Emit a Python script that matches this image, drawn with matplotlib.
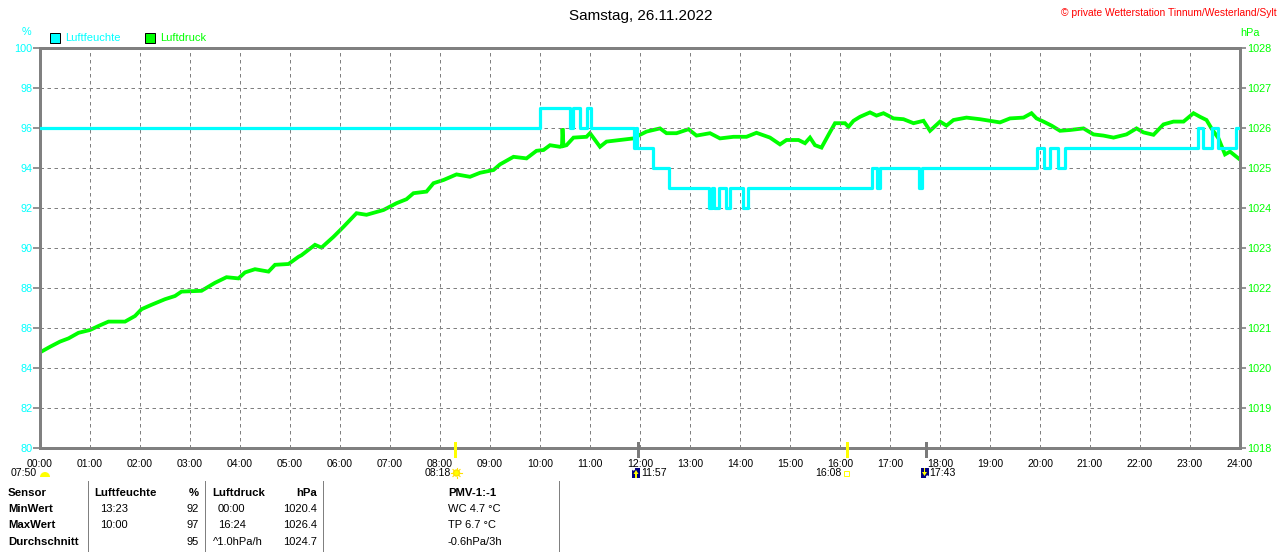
import matplotlib
matplotlib.use("Agg")
import matplotlib.pyplot as plt
from matplotlib.patches import Rectangle, Circle, Wedge, Polygon
import numpy as np

plt.rcParams['font.family'] = ['Liberation Sans', 'DejaVu Sans']
plt.rcParams['lines.scale_dashes'] = False

# ---------------- data ----------------
title = "Samstag, 26.11.2022"
copyright_txt = "\u00a9 private Wetterstation Tinnum/Westerland/Sylt"
series_names = ["Luftfeuchte", "Luftdruck"]

hum_times = [0, 10.0, 10.6, 10.65, 10.8, 10.93, 11.01, 11.88, 11.91, 11.93, 11.96,
             12.25, 12.57, 13.37, 13.43, 13.47, 13.57, 13.71, 13.8, 14.05, 14.15,
             16.63, 16.73, 16.79, 17.57, 17.65, 19.93, 20.07, 20.19, 20.35, 20.5,
             23.15, 23.25, 23.43, 23.55, 23.92, 24.0]
hum_vals = [96, 97, 96, 97, 96, 97, 96, 95, 96, 95, 95,
            94, 93, 92, 93, 92, 93, 92, 93, 92, 93,
            94, 93, 94, 93, 94, 95, 94, 95, 94, 95,
            96, 95, 96, 95, 96, 96]

press_times = [0.0, 0.2, 0.4, 0.57, 0.77, 1.0, 1.17, 1.37, 1.7, 1.9, 2.03, 2.23, 2.5,
               2.7, 2.83, 3.23, 3.5, 3.73, 3.97, 4.1, 4.3, 4.57, 4.7, 4.97, 5.17, 5.23,
               5.5, 5.63, 5.87, 6.07, 6.33, 6.53, 6.87, 7.13, 7.33, 7.47, 7.73, 7.87,
               8.07, 8.33, 8.6, 8.8, 9.07, 9.2, 9.47, 9.73, 9.93, 10.07, 10.2, 10.4,
               10.44, 10.45, 10.47, 10.53, 10.67, 10.93, 11.0, 11.2, 11.33, 11.6, 11.87,
               12.0, 12.13, 12.4, 12.53, 12.73, 12.97, 13.13, 13.4, 13.6, 13.87, 14.13,
               14.33, 14.6, 14.8, 14.93, 15.17, 15.3, 15.4, 15.5, 15.63, 15.77, 15.9,
               16.1, 16.17, 16.27, 16.4, 16.6, 16.73, 16.87, 17.07, 17.27, 17.47, 17.67,
               17.8, 18.0, 18.13, 18.27, 18.53, 18.8, 19.2, 19.4, 19.67, 19.83, 19.93,
               20.07, 20.23, 20.4, 20.6, 20.87, 21.07, 21.27, 21.47, 21.73, 21.93, 22.07,
               22.27, 22.47, 22.67, 22.87, 23.07, 23.2, 23.33, 23.43, 23.57, 23.7, 23.8,
               23.97]
press_vals = [1020.39, 1020.53, 1020.66, 1020.74, 1020.88, 1020.95, 1021.05, 1021.16,
              1021.16, 1021.30, 1021.47, 1021.58, 1021.72, 1021.80, 1021.91, 1021.93,
              1022.13, 1022.27, 1022.24, 1022.39, 1022.47, 1022.41, 1022.58, 1022.60,
              1022.78, 1022.82, 1023.08, 1023.01, 1023.28, 1023.53, 1023.87, 1023.83,
              1023.95, 1024.12, 1024.22, 1024.37, 1024.41, 1024.62, 1024.70, 1024.84,
              1024.78, 1024.88, 1024.95, 1025.09, 1025.28, 1025.24, 1025.43, 1025.45,
              1025.57, 1025.53, 1025.55, 1025.99, 1025.55, 1025.57, 1025.76, 1025.78,
              1025.87, 1025.53, 1025.66, 1025.70, 1025.74, 1025.83, 1025.91, 1025.99,
              1025.87, 1025.87, 1025.97, 1025.81, 1025.87, 1025.74, 1025.78, 1025.78,
              1025.88, 1025.76, 1025.59, 1025.70, 1025.70, 1025.62, 1025.76, 1025.57,
              1025.51, 1025.83, 1026.12, 1026.12, 1026.03, 1026.18, 1026.28, 1026.39,
              1026.31, 1026.37, 1026.24, 1026.22, 1026.12, 1026.18, 1025.93, 1026.16,
              1026.06, 1026.20, 1026.26, 1026.22, 1026.14, 1026.24, 1026.26, 1026.37,
              1026.24, 1026.16, 1026.06, 1025.93, 1025.95, 1025.99, 1025.84, 1025.81,
              1025.76, 1025.84, 1025.99, 1025.89, 1025.83, 1026.09, 1026.16, 1026.16,
              1026.37, 1026.28, 1026.20, 1025.99, 1025.74, 1025.34, 1025.41, 1025.24]

x_ticks = list(range(0, 25))
x_tick_labels = ["%02d:00" % h for h in x_ticks]
hum_ticks = [80, 82, 84, 86, 88, 90, 92, 94, 96, 98, 100]
press_ticks = [1018, 1019, 1020, 1021, 1022, 1023, 1024, 1025, 1026, 1027, 1028]

# astronomical events
event_line_times = [8.30, 11.95, 16.133, 17.717]
event_line_kinds = ["sun", "moon", "sun", "moon"]

table_header = ["Sensor", "Luftfeuchte", "%", "Luftdruck", "hPa", "PMV-1:-1"]
row_names = ["MinWert", "MaxWert", "Durchschnitt"]
hum_when = ["13:23", "10:00", ""]
hum_stat = ["92", "97", "95"]
press_when = ["00:00", "16:24", "^1.0hPa/h"]
press_stat = ["1020.4", "1026.4", "1024.7"]
pmv_lines = ["WC 4.7 \u00b0C", "TP 6.7 \u00b0C", "-0.6hPa/3h"]

# ---------------- style ----------------
W, H = 1280, 552
CYAN = "#00FFFF"
GREEN = "#00FF00"
GRAY = "#808080"
YEL = "#FFFF00"
NAVY = "#000080"
PX = 0.72  # points per pixel at 100 dpi

fig = plt.figure(figsize=(W / 100, H / 100), dpi=100)
fig.patch.set_facecolor("white")
TI = fig.dpi_scale_trans  # inches; 1 px = 0.01 in


def fx(x):
    return x / W


def fy(y):
    return 1 - y / H


def ix(x):
    return x / 100.0


def iy(y):
    return (H - y) / 100.0


ax = fig.add_axes([fx(40), fy(448), 1200 / W, 400 / H])
ax2 = ax.twinx()
ax.set_zorder(ax2.get_zorder() + 1)
ax.patch.set_visible(False)

ax.set_xlim(0, 24)
ax.set_ylim(80, 100)
ax2.set_ylim(1018, 1028)

# grid
for h in x_ticks[1:-1]:
    ax.axvline(h, color=GRAY, lw=1 * PX, ls=(0, (3.5 * PX, 3.5 * PX)), zorder=0)
for v in hum_ticks[1:-1]:
    ax.axhline(v, color=GRAY, lw=1 * PX, ls=(0, (3.5 * PX, 3.5 * PX)), zorder=0)

# series
ax2.plot(press_times, press_vals, color=GREEN, lw=3.8 * PX, solid_joinstyle="miter", zorder=3)
ax.step(hum_times, hum_vals, where="post", color=CYAN, lw=3.2 * PX, zorder=4)

# spines
for a in (ax, ax2):
    for s in a.spines.values():
        s.set_color(GRAY)
        s.set_linewidth(3 * PX)

ax.set_xticks(x_ticks)
ax.set_xticklabels(x_tick_labels)
ax.tick_params(axis="x", length=0, pad=8, labelsize=7.6, colors="black")
ax.set_yticks(hum_ticks)
ax.tick_params(axis="y", length=5, width=1.2, color=GRAY, pad=0.5, labelsize=7.8, labelcolor=CYAN)
ax2.set_yticks(press_ticks)
ax2.tick_params(axis="y", length=4, width=1.2, color=GRAY, pad=1, labelsize=7.8, labelcolor=GREEN)

# event marker lines across bottom axis
for t, k in zip(event_line_times, event_line_kinds):
    ax.axvline(t, ymin=-0.02, ymax=0.012, color=(YEL if k == "sun" else "#7a7a7a"),
               lw=3 * PX, clip_on=False, zorder=6)

# ---------------- texts ----------------
fig.text(fx(641), fy(16), title, ha="center", va="center", fontsize=11, color="black")
fig.text(fx(1277), fy(12.5), copyright_txt, ha="right", va="center", fontsize=7.4, color="#FF0000")
fig.text(fx(26), fy(32), "%", ha="center", va="center", fontsize=7.8, color=CYAN)
fig.text(fx(1250), fy(33), "hPa", ha="center", va="center", fontsize=7.8, color=GREEN)


def rect(x, y, w, h, fc, ec="none", lw=0):
    fig.add_artist(Rectangle((ix(x), iy(y + h)), w / 100, h / 100, transform=TI,
                             facecolor=fc, edgecolor=ec, lw=lw))


# legend
for x0, col, name in [(50, CYAN, series_names[0]), (145, GREEN, series_names[1])]:
    rect(50 if col == CYAN else 145, 33, 10, 10, col, ec="black", lw=1 * PX)
    fig.text(fx(x0 + 15), fy(38), name, ha="left", va="center", fontsize=8, color=col)

# event labels and icons
fs_ev = 7.6
fig.text(fx(37), fy(473), "07:50", ha="right", va="center", fontsize=fs_ev)
fig.add_artist(Wedge((ix(45), iy(477)), 0.05, 0, 180, transform=TI,
                     facecolor=YEL, edgecolor="none"))
fig.text(fx(451), fy(473), "08:18", ha="right", va="center", fontsize=fs_ev)
fig.add_artist(Circle((ix(456.5), iy(473)), 0.03, transform=TI,
                      facecolor=YEL, edgecolor="#FFE000", lw=1))
for ang in np.arange(0, 360, 45):
    a = np.deg2rad(ang)
    fig.add_artist(plt.Line2D([ix(456.5 + 3.5 * np.cos(a)), ix(456.5 + 5 * np.cos(a))],
                              [iy(473 - 3.5 * np.sin(a)), iy(473 - 5 * np.sin(a))],
                              transform=TI, color="#FFE000", lw=0.8))
rect(632, 468, 8, 10, NAVY)
fig.add_artist(Polygon([(ix(636), iy(470)), (ix(633.5), iy(474)), (ix(638.5), iy(474))],
                       closed=True, transform=TI, facecolor=YEL, edgecolor="none"))
rect(635.3, 474, 1.4, 4, YEL)
fig.add_artist(Circle((ix(633.5), iy(469)), 0.016, transform=TI,
                      facecolor="white", edgecolor="none"))
fig.text(fx(641), fy(473), "11:57", ha="left", va="center", fontsize=fs_ev)
fig.text(fx(841), fy(473), "16:08", ha="right", va="center", fontsize=fs_ev)
rect(844, 471, 5, 5, "none", ec=YEL, lw=1 * PX)
rect(921, 468, 8, 10, NAVY)
fig.add_artist(Polygon([(ix(924.5), iy(476)), (ix(922), iy(472)), (ix(927), iy(472))],
                       closed=True, transform=TI, facecolor=YEL, edgecolor="none"))
rect(923.8, 468, 1.4, 4, YEL)
fig.add_artist(Circle((ix(927.5), iy(477)), 0.016, transform=TI,
                      facecolor="white", edgecolor="none"))
fig.text(fx(929), fy(473), "17:43", ha="left", va="center", fontsize=fs_ev)

# ---------------- table ----------------
for xs in (88, 205, 323, 559):
    fig.add_artist(plt.Line2D([fx(xs), fx(xs)], [fy(481), fy(552)], transform=fig.transFigure,
                              color=GRAY, lw=1 * PX))

fb, fr = 8.2, 8.0
rows_y = [493, 509, 525, 542]
fig.text(fx(8), fy(rows_y[0]), table_header[0], ha="left", va="center", fontsize=fb, fontweight="bold")
fig.text(fx(94), fy(rows_y[0]), table_header[1], ha="left", va="center", fontsize=fb, fontweight="bold")
fig.text(fx(199), fy(rows_y[0]), table_header[2], ha="right", va="center", fontsize=fb, fontweight="bold")
fig.text(fx(212), fy(rows_y[0]), table_header[3], ha="left", va="center", fontsize=fb, fontweight="bold")
fig.text(fx(317), fy(rows_y[0]), table_header[4], ha="right", va="center", fontsize=fb, fontweight="bold")
fig.text(fx(448), fy(rows_y[0]), table_header[5], ha="left", va="center", fontsize=fb, fontweight="bold")
for i, yy in enumerate(rows_y[1:]):
    fig.text(fx(8), fy(yy), row_names[i], ha="left", va="center", fontsize=fb, fontweight="bold")
    fig.text(fx(100), fy(yy), hum_when[i], ha="left", va="center", fontsize=fr)
    fig.text(fx(199), fy(yy), hum_stat[i], ha="right", va="center", fontsize=fr)
    px_ = 213 if i == 2 else 218
    fig.text(fx(px_), fy(yy), press_when[i], ha="left", va="center", fontsize=fr)
    fig.text(fx(317), fy(yy), press_stat[i], ha="right", va="center", fontsize=fr)
    fig.text(fx(448), fy(yy), pmv_lines[i], ha="left", va="center", fontsize=fr)

fig.savefig("out.png", dpi=100)
